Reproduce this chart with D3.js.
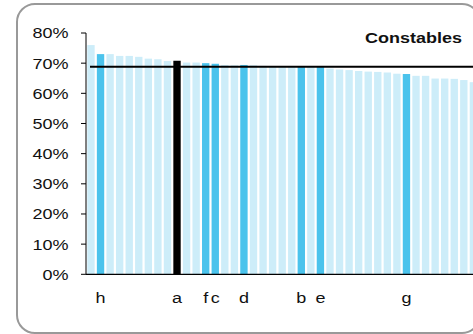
<!DOCTYPE html>
<html>
<head>
<meta charset="utf-8">
<script src="https://cdn.jsdelivr.net/npm/d3@7/dist/d3.min.js"></script>
<style>
  html, body { margin: 0; padding: 0; background: #fff; overflow: hidden; }
  svg { display: block; font-family: "Liberation Sans", Arial, sans-serif; }
</style>
</head>
<body>
<svg id="chart" width="473" height="334"></svg>
<script>
// ---- data ----
const values = [76.0, 73.0, 73.0, 72.4, 72.4, 72.1, 71.5, 71.3, 70.7, 70.8,
                70.2, 70.2, 70.0, 69.8, 69.4, 69.3, 69.4, 69.3, 69.1, 69.0,
                69.0, 68.9, 68.9, 68.8, 68.8, 68.2, 67.9, 67.7, 67.4, 67.2,
                67.1, 66.9, 66.5, 66.4, 65.8, 65.8, 64.9, 64.9, 64.8, 64.4,
                63.7];
const labels = ["", "h", "", "", "", "", "", "", "", "a",
                "", "", "f", "c", "", "", "d", "", "", "",
                "", "", "b", "", "e", "", "", "", "", "",
                "", "", "", "g", "", "", "", "", "", "",
                ""];
const highlight = ["", "blue", "", "", "", "", "", "", "", "black",
                   "", "", "blue", "blue", "", "", "blue", "", "", "",
                   "", "", "blue", "", "blue", "", "", "", "", "",
                   "", "", "", "blue", "", "", "", "", "", "",
                   ""];
const average = 68.85;
const yTicks = [0, 10, 20, 30, 40, 50, 60, 70, 80];
const title = "Constables";

// ---- layout ----
const svg = d3.select("#chart");
const x0 = 86.2, step = 9.56;
const idx = values.map((v, i) => i);
const x = d3.scaleBand().domain(idx).range([x0, x0 + step * values.length])
  .paddingInner(0.23).paddingOuter(0.115);
const y = d3.scaleLinear().domain([0, 80]).range([274.3, 33]);
const colorOf = h => h === "black" ? "#000000" : h === "blue" ? "#4bc3ec" : "#cdedf9";
const sx = 1.2;

// bars
svg.append("g").selectAll("rect").data(idx).join("rect")
  .attr("x", i => x(i))
  .attr("y", i => y(values[i]))
  .attr("width", x.bandwidth())
  .attr("height", i => y(0) - y(values[i]))
  .attr("fill", i => colorOf(highlight[i]));

// y axis
const axisX = 86;
svg.append("line").attr("x1", axisX).attr("x2", axisX)
  .attr("y1", y(80)).attr("y2", y(0)).attr("stroke", "#000").attr("stroke-width", 1);
svg.append("line").attr("x1", axisX).attr("x2", 480)
  .attr("y1", y(0)).attr("y2", y(0)).attr("stroke", "#000").attr("stroke-width", 1.2);
const yt = svg.append("g").selectAll("g").data(yTicks).join("g");
yt.append("line").attr("x1", 81).attr("x2", axisX)
  .attr("y1", d => y(d)).attr("y2", d => y(d)).attr("stroke", "#000");
yt.append("g").attr("transform", d => `translate(68.5,${y(d) + 5.4}) scale(${sx},1)`)
  .append("text").attr("text-anchor", "end").attr("font-size", 15).attr("fill", "#111")
  .text(d => d + "%");

// average line
svg.append("line").attr("x1", 90).attr("x2", 480)
  .attr("y1", y(average)).attr("y2", y(average))
  .attr("stroke", "#000").attr("stroke-width", 2);

// x labels
svg.append("g").selectAll("g").data(idx.filter(i => labels[i] !== "")).join("g")
  .attr("transform", i => `translate(${x(i) + x.bandwidth() / 2},303) scale(${sx},1)`)
  .append("text").attr("text-anchor", "middle").attr("font-size", 15).attr("fill", "#111")
  .text(i => labels[i]);

// title
svg.append("g").attr("transform", `translate(462,42.7) scale(${sx},1)`)
  .append("text").attr("text-anchor", "end").attr("font-size", 15)
  .attr("font-weight", "bold").attr("fill", "#111").text(title);

// frame
svg.append("rect").attr("x", 17).attr("y", 4).attr("width", 463).attr("height", 329)
  .attr("rx", 18).attr("fill", "none").attr("stroke", "#999").attr("stroke-width", 2);
</script>
</body>
</html>
